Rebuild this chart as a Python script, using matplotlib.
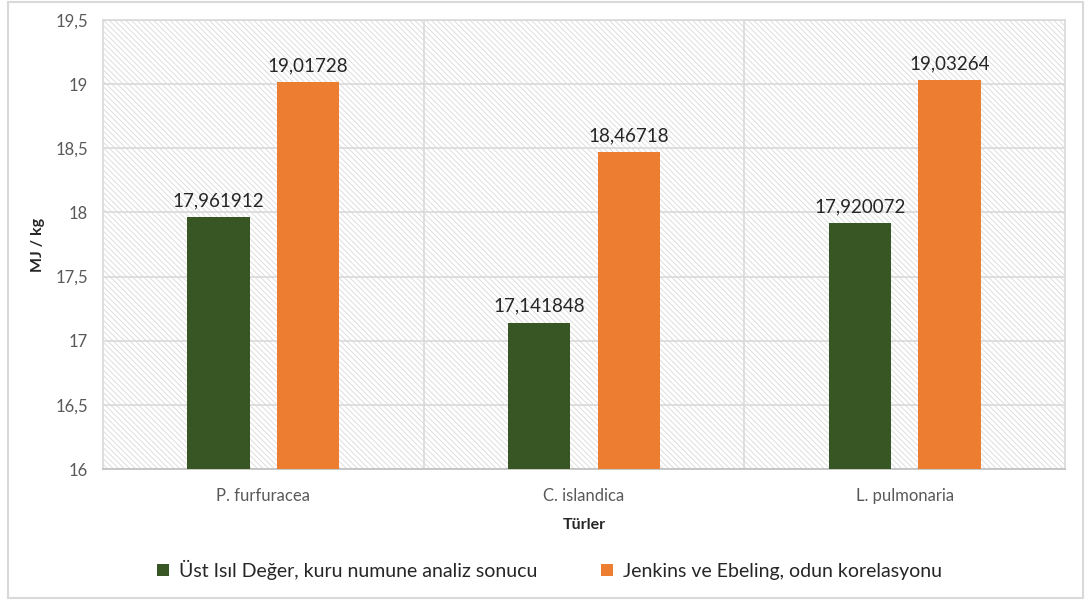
import matplotlib.pyplot as plt
import numpy as np
from matplotlib.patches import Rectangle

turler = ['P. furfuracea', 'C. islandica', 'L. pulmonaria']
ust_isil = [17.961912, 17.141848, 17.920072]
jenkins = [19.01728, 18.46718, 19.03264]
seri_adlari = ['Üst Isıl Değer, kuru numune analiz sonucu',
               'Jenkins ve Ebeling, odun korelasyonu']
y_ticks = [16, 16.5, 17, 17.5, 18, 18.5, 19, 19.5]
y_tick_labels = ['16', '16,5', '17', '17,5', '18', '18,5', '19', '19,5']

plt.rcParams['font.family'] = ['Lato', 'DejaVu Sans']
plt.rcParams['hatch.color'] = '#d9d9d9'
plt.rcParams['hatch.linewidth'] = 0.6

fig = plt.figure(figsize=(10.88, 6.01), dpi=100)
ax = fig.add_axes([103/1088, 1-469/601, 962/1088, 449/601])

# outer border
fig.patches.append(Rectangle((8/1088, 3/601), 1075/1088, 596/601, transform=fig.transFigure,
                             fill=False, edgecolor='#d9d9d9', linewidth=1.5))

ax.add_patch(Rectangle((0, 0), 1, 1, transform=ax.transAxes, facecolor='white',
                       hatch='\\\\\\\\\\\\', edgecolor='#d9d9d9', linewidth=0, zorder=0))

x = np.arange(len(turler))
w = 0.194
off = 0.14
b1 = ax.bar(x - off, ust_isil, w, color='#375623', label=seri_adlari[0], zorder=3)
b2 = ax.bar(x + off, jenkins, w, color='#ED7D31', label=seri_adlari[1], zorder=3)

for bars, vals in ((b1, ust_isil), (b2, jenkins)):
    for b, v in zip(bars, vals):
        ax.text(b.get_x() + b.get_width()/2, v + 0.06, str(v).replace('.', ','),
                ha='center', va='bottom', fontsize=13.5, color='#262626', zorder=4)

ax.set_xlim(-0.5, 2.5)
ax.set_ylim(16, 19.5)
ax.set_yticks(y_ticks)
ax.set_yticklabels(y_tick_labels)
ax.set_xticks(x)
ax.set_xticklabels(turler)
ax.set_xticks([0.5, 1.5], minor=True)
ax.grid(axis='y', color='#d9d9d9', linewidth=1.2, zorder=1)
ax.grid(axis='x', which='minor', color='#d9d9d9', linewidth=1.2, zorder=1)
ax.tick_params(axis='both', which='both', length=0, labelsize=12, colors='#595959')
ax.tick_params(axis='x', pad=14)
ax.tick_params(axis='y', pad=11)
for s in ax.spines.values():
    s.set_color('#d9d9d9')
    s.set_linewidth(1.2)
ax.spines['bottom'].set_color('#bfbfbf')

ax.set_ylabel('MJ / kg', fontsize=11.5, fontweight='bold', color='#262626')
ax.yaxis.set_label_coords(-0.06, 0.5)
ax.set_xlabel('Türler', fontsize=11.5, fontweight='bold', color='#262626', labelpad=10)

fig.legend(loc='center', bbox_to_anchor=(0.505, 1-570/601), ncol=2, frameon=False,
           fontsize=14, handlelength=0.6, handleheight=0.6, columnspacing=3.3,
           handletextpad=0.5, labelcolor='#262626')

fig.savefig('out.png', dpi=100)
